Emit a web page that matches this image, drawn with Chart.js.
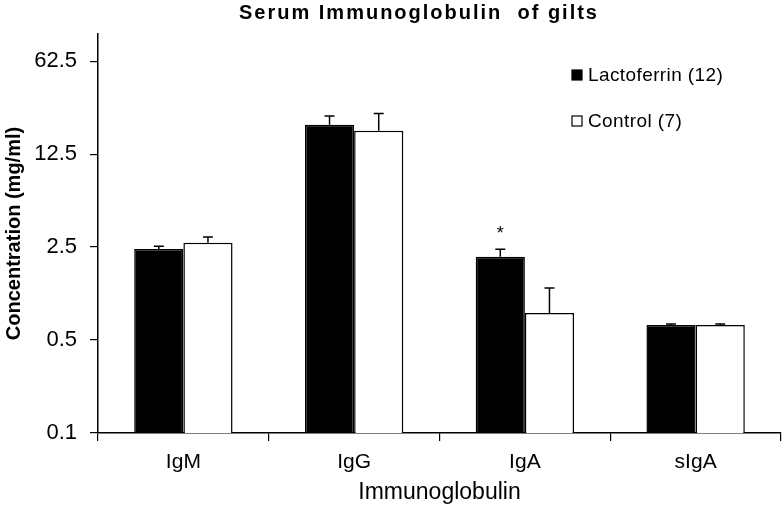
<!DOCTYPE html>
<html>
<head>
<meta charset="utf-8">
<script src="https://cdn.jsdelivr.net/npm/chart.js@4.4.1/dist/chart.umd.min.js"></script>
<style>
  html, body { margin: 0; padding: 0; background: #fff; }
  #box { width: 782px; height: 506px; }
</style>
</head>
<body>
<div id="box"><canvas id="grafico"></canvas></div>
<script>
const categorias = ['IgM', 'IgG', 'IgA', 'sIgA'];
const lactoferrina = [2.42, 20.8, 2.11, 0.65];
const lactoferrinaErro = [0.12, 3.4, 0.30, 0.01];
const controle = [2.70, 18.7, 0.80, 0.65];
const controleErro = [0.28, 6.6, 0.43, 0.01];
const ticksY = [0.1, 0.5, 2.5, 12.5, 62.5];
const rotulosY = ['0.1', '0.5', '2.5', '12.5', '62.5'];
const legendas = ['Lactoferrin (12)', 'Control (7)'];
const asteriscos = [['IgA', 0, '*']];

const fonte = '"Liberation Sans", Arial, sans-serif';
const erros = [lactoferrinaErro, controleErro];

const pluginErros = {
    id: 'barrasErro',
    afterDatasetsDraw(chart) {
        const ctx = chart.ctx;
        const y = chart.scales.y;
        ctx.save();
        ctx.strokeStyle = '#000';
        ctx.lineWidth = 1.5;
        chart.data.datasets.forEach((ds, d) => {
            const meta = chart.getDatasetMeta(d);
            meta.data.forEach((bar, i) => {
                const topo = y.getPixelForValue(ds.data[i]);
                const cap = y.getPixelForValue(ds.data[i] + erros[d][i]);
                ctx.beginPath();
                ctx.moveTo(bar.x, topo);
                ctx.lineTo(bar.x, cap);
                ctx.moveTo(bar.x - 5, cap);
                ctx.lineTo(bar.x + 5, cap);
                ctx.stroke();
            });
        });
        // asterisco de significancia
        ctx.fillStyle = '#000';
        ctx.font = '18px ' + fonte;
        ctx.textAlign = 'center';
        ctx.textBaseline = 'middle';
        asteriscos.forEach(([cat, d, txt]) => {
            const i = categorias.indexOf(cat);
            const bar = chart.getDatasetMeta(d).data[i];
            const cap = y.getPixelForValue(chart.data.datasets[d].data[i] + erros[d][i]);
            ctx.fillText(txt, bar.x, cap - 15);
        });
        ctx.restore();
    }
};

const pluginTextos = {
    id: 'textos',
    afterDraw(chart) {
        const ctx = chart.ctx;
        ctx.save();
        ctx.fillStyle = '#000';
        ctx.textBaseline = 'middle';
        ctx.textAlign = 'center';
        ctx.font = 'bold 20px ' + fonte;
        ctx.letterSpacing = '2px';
        ctx.fillText('Serum Immunoglobulin  of gilts', 419, 13);
        ctx.letterSpacing = '0.4px';
        // legenda
        ctx.textAlign = 'left';
        ctx.font = '19px ' + fonte;
        chart.data.datasets.forEach((ds, d) => {
            const ly = 75 + d * 46;
            ctx.fillStyle = ds.backgroundColor;
            ctx.fillRect(572, ly - 5, 10, 10);
            ctx.strokeStyle = '#000';
            ctx.lineWidth = 1.2;
            ctx.strokeRect(572, ly - 5, 10, 10);
            ctx.fillStyle = '#000';
            ctx.fillText(legendas[d], 588, ly + 1);
        });
        ctx.restore();
    }
};

new Chart(document.getElementById('grafico'), {
    type: 'bar',
    data: {
        labels: categorias,
        datasets: [
            {
                label: legendas[0],
                data: lactoferrina,
                backgroundColor: '#000',
                borderColor: '#000',
                borderWidth: 1.5,
                categoryPercentage: 0.576,
                barPercentage: 1.0
            },
            {
                label: legendas[1],
                data: controle,
                backgroundColor: '#fff',
                borderColor: '#000',
                borderWidth: 1.5,
                categoryPercentage: 0.576,
                barPercentage: 1.0
            }
        ]
    },
    options: {
        animation: false,
        responsive: true,
        maintainAspectRatio: false,
        devicePixelRatio: 1,
        layout: { padding: { top: 34, right: 1, left: 0, bottom: 0 } },
        plugins: {
            legend: { display: false },
            title: { display: false },
            tooltip: { enabled: false }
        },
        scales: {
            x: {
                afterFit: (s) => { s.height = 73; },
                grid: {
                    display: true,
                    drawOnChartArea: false,
                    offset: true,
                    tickLength: 8,
                    color: '#000',
                    lineWidth: 1.2
                },
                border: { color: '#000', width: 1.5 },
                ticks: {
                    color: '#000',
                    padding: 9,
                    font: { family: fonte, size: 21 }
                },
                title: {
                    display: true,
                    text: 'Immunoglobulin',
                    color: '#000',
                    padding: { top: 5, bottom: 0 },
                    font: { family: fonte, size: 23 }
                }
            },
            y: {
                type: 'logarithmic',
                min: 0.1,
                max: 100,
                afterFit: (s) => { s.width = 98; },
                afterBuildTicks: (s) => { s.ticks = ticksY.map(v => ({ value: v })); },
                grid: {
                    display: true,
                    drawOnChartArea: false,
                    tickLength: 8,
                    color: '#000',
                    lineWidth: 1.2
                },
                border: { color: '#000', width: 1.5 },
                ticks: {
                    color: '#000',
                    padding: 13,
                    autoSkip: false,
                    font: { family: fonte, size: 22 },
                    callback: (v) => {
                        const i = ticksY.indexOf(v);
                        return i >= 0 ? rotulosY[i] : '';
                    }
                },
                title: {
                    display: true,
                    text: 'Concentration (mg/ml)',
                    color: '#000',
                    padding: { top: 2, bottom: 0 },
                    font: { family: fonte, size: 20, weight: 'bold' }
                }
            }
        }
    },
    plugins: [pluginErros, pluginTextos]
});
</script>
</body>
</html>
